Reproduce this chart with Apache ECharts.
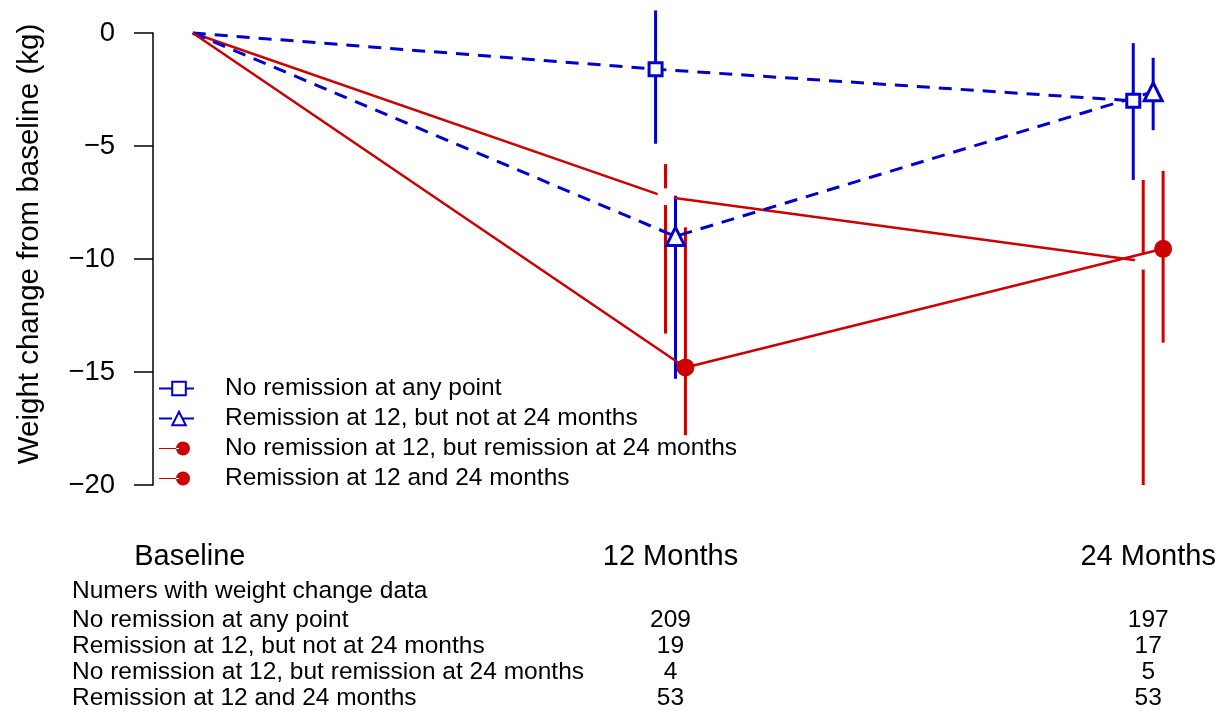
<!DOCTYPE html>
<html>
<head>
<meta charset="utf-8">
<script src="https://cdn.jsdelivr.net/npm/echarts@6/dist/echarts.min.js"></script>
<style>
  html, body { margin: 0; padding: 0; background: #fff; }
  #main { width: 1218px; height: 711px; }
</style>
</head>
<body>
<div id="main"></div>
<script>
// time points (months) and per-group horizontal jitter
var months = [0, 12, 24];
var groupNames = [
    'No remission at any point',
    'Remission at 12, but not at 24 months',
    'No remission at 12, but remission at 24 months',
    'Remission at 12 and 24 months'
];
var jitter = [-0.375, 0.125, -0.125, 0.375];

// mean weight change (kg)
var meanNoRem = [0, -1.6, -3.0];
var meanRem12 = [0, -9.0, -2.6];
var meanRem24 = [0, -7.25, -10.1];
var meanRemBoth = [0, -14.8, -9.55];

// error bar ends (upper, lower) at 12 and 24 months
var hiNoRem = [1.0, -0.45];
var loNoRem = [-4.9, -6.5];
var hiRem12 = [-7.2, -1.1];
var loRem12 = [-15.3, -4.3];
var hiRem24 = [-5.8, -6.5];
var loRem24 = [-13.3, -20.0];
var hiRemBoth = [-8.6, -6.1];
var loRemBoth = [-17.8, -13.7];

// numbers table
var tableTitle = 'Numers with weight change data';
var colLabels = ['Baseline', '12 Months', '24 Months'];
var n12 = [209, 19, 4, 53];
var n24 = [197, 17, 5, 53];

var BLUE = '#0000CD';
var RED = '#CD0000';
var FONT = 'Liberation Sans, Arial, sans-serif';

var means = [meanNoRem, meanRem12, meanRem24, meanRemBoth];
var his = [hiNoRem, hiRem12, hiRem24, hiRemBoth];
var los = [loNoRem, loRem12, loRem24, loRemBoth];
var colors = [BLUE, BLUE, RED, RED];

// baseline point has no marker
function lineData(g) {
    return months.map(function (m, i) {
        if (i === 0) {
            return {value: [m, means[g][i]], symbol: 'none'};
        }
        return [m + jitter[g], means[g][i]];
    });
}

function barData(g) {
    return [1, 2].map(function (i) {
        return [months[i] + jitter[g], los[g][i - 1], his[g][i - 1]];
    });
}

function errSeries(g) {
    return {
        type: 'custom',
        name: 'err' + g,
        clip: false,
        z: 1,
        silent: true,
        data: barData(g),
        renderItem: function (params, api) {
            var a = api.coord([api.value(0), api.value(1)]);
            var b = api.coord([api.value(0), api.value(2)]);
            return {
                type: 'line',
                shape: {x1: a[0], y1: a[1], x2: b[0], y2: b[1]},
                style: {stroke: colors[g], lineWidth: 3}
            };
        }
    };
}

// thin line + dot on the right, like the R legend
var dotIcon = 'path://M0,0 L0.3,0 L0,0.3 Z M40,14 L39.7,14 L40,13.7 Z ' +
    'M0,6.4 L20,6.4 L20,7.6 L0,7.6 Z M17,7 A7,7 0 1,0 31,7 A7,7 0 1,0 17,7 Z';

var chart = echarts.init(document.getElementById('main'));

var option = {
    animation: false,
    backgroundColor: '#fff',
    grid: {left: 153, right: 30, top: 33, bottom: 226},
    xAxis: {
        type: 'value',
        min: -1,
        max: 25,
        show: false
    },
    yAxis: {
        type: 'value',
        min: -20,
        max: 0,
        interval: 5,
        name: 'Weight change from baseline (kg)',
        nameLocation: 'middle',
        nameGap: 108,
        nameRotate: 90,
        nameTextStyle: {fontFamily: FONT, fontSize: 29.5, color: '#000', padding: [0, 0, 0, 30]},
        axisLine: {show: true, onZero: false, lineStyle: {color: '#000', width: 1.5}},
        axisTick: {show: true, length: 19, lineStyle: {color: '#000', width: 1.5}},
        axisLabel: {
            margin: 38,
            fontFamily: FONT,
            fontSize: 27.5,
            color: '#000',
            formatter: function (v) { return String(v).replace('-', '\u2212'); }
        },
        splitLine: {show: false}
    },
    legend: {
        orient: 'vertical',
        left: 158,
        top: 376,
        padding: 0,
        itemWidth: 40,
        itemHeight: 17,
        itemGap: 5,
        textStyle: {fontFamily: FONT, fontSize: 24.5, color: '#000', lineHeight: 22.5, padding: [0, 0, 0, 21]},
        data: [
            {name: groupNames[0]},
            {name: groupNames[1]},
            {name: groupNames[2], icon: dotIcon, itemStyle: {color: RED}},
            {name: groupNames[3], icon: dotIcon, itemStyle: {color: RED}}
        ]
    },
    series: [
        errSeries(0), errSeries(1), errSeries(2), errSeries(3),
        {
            type: 'line',
            name: groupNames[2],
            z: 2,
            data: lineData(2),
            symbol: 'circle',
            symbolSize: 17,
            itemStyle: {color: '#fff', borderWidth: 0},
            lineStyle: {color: RED, width: 2.5},
            clip: false
        },
        {
            type: 'line',
            name: groupNames[0],
            z: 3,
            data: lineData(0),
            symbol: 'rect',
            symbolSize: 13,
            itemStyle: {color: '#fff', borderColor: BLUE, borderWidth: 3},
            lineStyle: {color: BLUE, width: 3, type: [13, 9]},
            clip: false
        },
        {
            type: 'line',
            name: groupNames[1],
            z: 3,
            data: lineData(1),
            symbol: 'triangle',
            symbolSize: 18,
            itemStyle: {color: '#fff', borderColor: BLUE, borderWidth: 3},
            lineStyle: {color: BLUE, width: 3, type: [13, 9]},
            clip: false
        },
        {
            type: 'line',
            name: groupNames[3],
            z: 4,
            data: lineData(3),
            symbol: 'circle',
            symbolSize: 18,
            itemStyle: {color: RED},
            lineStyle: {color: RED, width: 2.5},
            clip: false
        }
    ]
};

chart.setOption(option);

// table under the plot, columns placed through the x scale
var xBase = chart.convertToPixel({xAxisIndex: 0}, months[0]) - 3;
var x12 = chart.convertToPixel({xAxisIndex: 0}, months[1]);
var x24 = chart.convertToPixel({xAxisIndex: 0}, months[2]);
var headY = 557;
var rowY = [591, 620, 646, 672, 698];

var texts = [];
function addText(x, y, str, size, align) {
    texts.push({
        type: 'text',
        x: x,
        y: y,
        style: {
            text: str,
            fontFamily: FONT,
            fontSize: size,
            fill: '#000',
            align: align,
            verticalAlign: 'middle'
        }
    });
}
addText(xBase, headY, colLabels[0], 29, 'center');
addText(x12, headY, colLabels[1], 29, 'center');
addText(x24, headY, colLabels[2], 29, 'center');
addText(72, rowY[0], tableTitle, 24.5, 'left');
groupNames.forEach(function (name, i) {
    addText(72, rowY[i + 1], name, 24.5, 'left');
    addText(x12, rowY[i + 1], String(n12[i]), 24.5, 'center');
    addText(x24, rowY[i + 1], String(n24[i]), 24.5, 'center');
});

chart.setOption({graphic: {elements: texts}});
</script>
</body>
</html>
